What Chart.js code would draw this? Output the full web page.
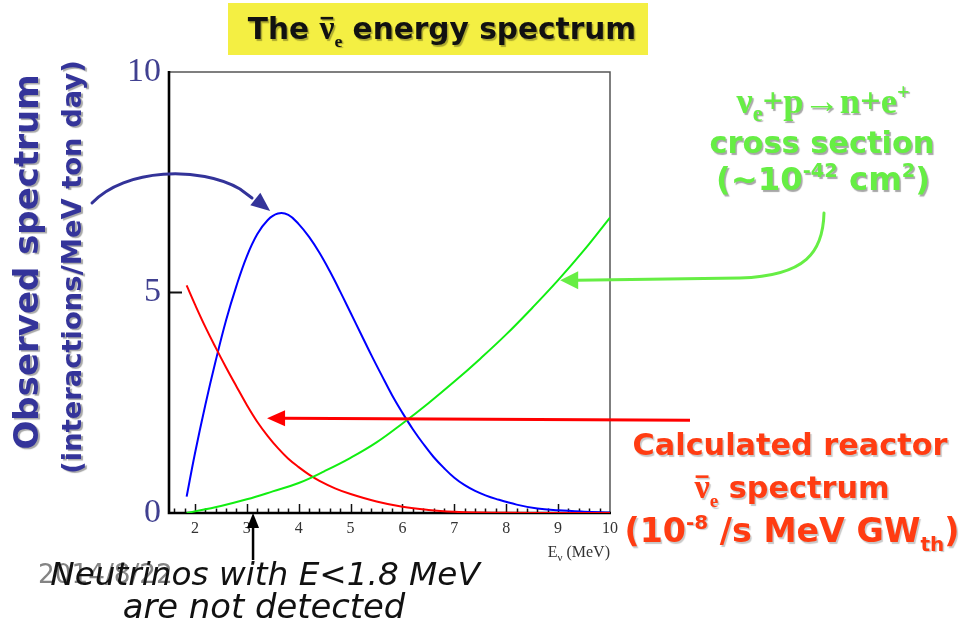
<!DOCTYPE html>
<html>
<head>
<meta charset="utf-8">
<script src="https://cdn.jsdelivr.net/npm/chart.js@4/dist/chart.umd.min.js"></script>
<style>
  html, body { margin: 0; padding: 0; background: #ffffff; }
  #wrap { width: 961px; height: 632px; position: relative; }
</style>
</head>
<body>
<div id="wrap"><canvas id="c" width="961" height="632"></canvas></div>
<script>
// Antineutrino energy (MeV) and the three curves
const observedE = [1.84, 2.0, 2.2, 2.4, 2.6, 2.8, 3.0, 3.2, 3.4, 3.6, 3.8, 4.0, 4.2, 4.4, 4.6, 4.8, 5.0, 5.2, 5.4, 5.6, 5.8, 6.0, 6.2, 6.4, 6.6, 6.8, 7.0, 7.2, 7.4, 7.6, 7.8, 8.2, 8.6, 9.0, 9.5, 10.0];
const observedSpectrum = [0.37, 1.35, 2.45, 3.45, 4.37, 5.15, 5.82, 6.32, 6.64, 6.79, 6.76, 6.55, 6.26, 5.90, 5.48, 5.02, 4.54, 4.06, 3.58, 3.12, 2.67, 2.27, 1.90, 1.57, 1.27, 1.02, 0.80, 0.63, 0.50, 0.40, 0.32, 0.19, 0.10, 0.06, 0.03, 0.01];

const reactorE = [1.84, 2.0, 2.2, 2.4, 2.6, 2.8, 3.0, 3.2, 3.4, 3.6, 3.8, 4.0, 4.2, 4.4, 4.7, 5.0, 5.5, 6.0, 6.5, 7.0, 7.5, 8.0, 9.0, 10.0];
const reactorFlux = [5.16, 4.73, 4.22, 3.75, 3.30, 2.87, 2.45, 2.07, 1.75, 1.47, 1.23, 1.04, 0.87, 0.73, 0.56, 0.43, 0.26, 0.14, 0.07, 0.03, 0.012, 0.005, 0.002, 0.001];

const crossE = [1.84, 2.5, 3.0, 3.5, 4.0, 4.5, 5.0, 5.5, 6.0, 6.5, 7.0, 7.5, 8.0, 8.5, 9.0, 9.5, 10.0];
const crossSection = [0.0, 0.16, 0.31, 0.49, 0.68, 0.95, 1.25, 1.60, 2.03, 2.49, 2.98, 3.50, 4.05, 4.65, 5.28, 5.96, 6.70];

const xTickValues = [2, 3, 4, 5, 6, 7, 8, 9, 10];
const yTickValues = [0, 5, 10];

const points = (xs, ys) => xs.map((x, i) => ({ x: x, y: ys[i] }));

const SANS = '"DejaVu Sans", sans-serif';
const SERIF = '"Liberation Serif", "Times New Roman", serif';

function fontOf(r, k) {
  return (r.style || 'normal') + ' ' + (r.weight || 'normal') + ' ' + (r.size * k).toFixed(1) + 'px ' + r.family;
}

// Draws a run of mixed-font text (sub/superscripts, overbars) fitted to a width
function drawRuns(ctx, runs, x, y, opts) {
  const measure = k => runs.reduce((s, r) => { ctx.font = fontOf(r, k); return s + ctx.measureText(r.t).width; }, 0);
  let k = 1;
  if (opts.width) k = opts.width / measure(1);
  const w = measure(k);
  let cx = opts.align === 'left' ? x : opts.align === 'right' ? x - w : x - w / 2;
  runs.forEach(r => {
    ctx.font = fontOf(r, k);
    const rw = ctx.measureText(r.t).width;
    const dy = (r.dy || 0) * k;
    ctx.fillText(r.t, cx, y + dy);
    if (r.over) {
      ctx.fillRect(cx + rw * 0.08, y + dy - r.size * k * r.over, rw * 0.84, Math.max(2, r.size * k * 0.075));
    }
    cx += rw;
  });
}

function arrowHead(ctx, fx, fy, tx, ty, len, half) {
  const a = Math.atan2(ty - fy, tx - fx);
  const bx = tx - len * Math.cos(a), by = ty - len * Math.sin(a);
  ctx.beginPath();
  ctx.moveTo(tx, ty);
  ctx.lineTo(bx + half * Math.sin(a), by - half * Math.cos(a));
  ctx.lineTo(bx - half * Math.sin(a), by + half * Math.cos(a));
  ctx.closePath();
  ctx.fill();
}

// Axis frame: thick left/bottom axes, thin top/right border, inward tick marks
const framePlugin = {
  id: 'frame',
  beforeDatasetsDraw(chart) {
    const ctx = chart.ctx, a = chart.chartArea;
    const xs = chart.scales.x, ys = chart.scales.y;
    ctx.save();
    ctx.strokeStyle = '#555555';
    ctx.lineWidth = 1.5;
    ctx.beginPath();
    ctx.moveTo(a.left, a.top); ctx.lineTo(a.right, a.top); ctx.lineTo(a.right, a.bottom);
    ctx.stroke();

    ctx.strokeStyle = '#111111';
    ctx.lineWidth = 1.5;
    for (let i = 8; i <= 49; i++) {
      const v = i / 5;
      const px = Math.round(xs.getPixelForValue(v)) + 0.5;
      const major = i % 5 === 0;
      ctx.beginPath();
      ctx.moveTo(px, a.bottom);
      ctx.lineTo(px, a.bottom - (major ? 9 : 4.5));
      ctx.stroke();
    }
    ctx.lineWidth = 2;
    const y5 = ys.getPixelForValue(5);
    ctx.beginPath();
    ctx.moveTo(a.left, y5); ctx.lineTo(a.left + 13, y5);
    ctx.stroke();

    ctx.strokeStyle = '#000000';
    ctx.lineWidth = 2.6;
    ctx.beginPath();
    ctx.moveTo(a.left, a.top - 1); ctx.lineTo(a.left, a.bottom); ctx.lineTo(a.right + 1, a.bottom);
    ctx.stroke();
    ctx.restore();
  }
};

// Title banner, axis captions, curve labels and pointer arrows
const notesPlugin = {
  id: 'notes',
  afterDraw(chart) {
    const ctx = chart.ctx;
    const xs = chart.scales.x, ys = chart.scales.y;
    const X = v => xs.getPixelForValue(v), Y = v => ys.getPixelForValue(v);
    ctx.save();
    ctx.textBaseline = 'alphabetic';
    ctx.textAlign = 'left';

    // x axis caption
    ctx.fillStyle = '#333333';
    drawRuns(ctx, [
      { t: 'E', family: SERIF, size: 16 },
      { t: 'ν', family: SERIF, size: 11, dy: 4 },
      { t: ' (MeV)', family: SERIF, size: 16 }
    ], chart.chartArea.right, 557, { align: 'right' });

    // title banner
    ctx.fillStyle = '#f4ef43';
    ctx.fillRect(228, 3, 420, 52);
    ctx.shadowColor = 'rgba(0,0,0,0.3)';
    ctx.shadowOffsetX = 1.5; ctx.shadowOffsetY = 1.5; ctx.shadowBlur = 1;
    ctx.fillStyle = '#111111';
    drawRuns(ctx, [
      { t: 'The ', family: SANS, weight: 'bold', size: 30 },
      { t: 'ν', family: SERIF, weight: 'bold', size: 34, over: 0.66 },
      { t: 'e', family: SERIF, weight: 'bold', size: 18, dy: 8 },
      { t: ' energy spectrum', family: SANS, weight: 'bold', size: 30 }
    ], 442, 39, { width: 388 });

    // y axis caption (two rotated lines)
    ctx.shadowColor = 'rgba(0,0,0,0.35)';
    ctx.fillStyle = '#34349a';
    ctx.save();
    ctx.translate(38, 262); ctx.rotate(-Math.PI / 2);
    drawRuns(ctx, [{ t: 'Observed spectrum', family: SANS, weight: 'bold', size: 30 }], 0, 0, { width: 375 });
    ctx.restore();
    ctx.save();
    ctx.translate(81, 267); ctx.rotate(-Math.PI / 2);
    drawRuns(ctx, [{ t: '(interactions/MeV ton day)', family: SANS, weight: 'bold', size: 30 }], 0, 0, { width: 413 });
    ctx.restore();

    // cross-section label
    ctx.fillStyle = '#66ee44';
    drawRuns(ctx, [
      { t: 'ν', family: SERIF, weight: 'bold', size: 28 },
      { t: 'e', family: SERIF, weight: 'bold', size: 17, dy: 6 },
      { t: '+p→n+e', family: SERIF, weight: 'bold', size: 28 },
      { t: '+', family: SERIF, weight: 'bold', size: 17, dy: -11 }
    ], 823, 113, { width: 173 });
    drawRuns(ctx, [{ t: 'cross section', family: SANS, weight: 'bold', size: 30 }], 822, 153, { width: 225 });
    drawRuns(ctx, [
      { t: '(~10', family: SANS, weight: 'bold', size: 30 },
      { t: '-42', family: SANS, weight: 'bold', size: 18, dy: -12 },
      { t: ' cm', family: SANS, weight: 'bold', size: 30 },
      { t: '2', family: SANS, weight: 'bold', size: 18, dy: -12 },
      { t: ')', family: SANS, weight: 'bold', size: 30 }
    ], 823, 190, { width: 214 });

    // reactor spectrum label
    ctx.fillStyle = '#ff3c12';
    ctx.shadowColor = 'rgba(0,0,0,0.22)';
    drawRuns(ctx, [{ t: 'Calculated reactor', family: SANS, weight: 'bold', size: 30 }], 790, 455, { width: 315 });
    drawRuns(ctx, [
      { t: 'ν', family: SERIF, weight: 'bold', size: 34, over: 0.66 },
      { t: 'e', family: SERIF, weight: 'bold', size: 19, dy: 9 },
      { t: ' spectrum', family: SANS, weight: 'bold', size: 30 }
    ], 792, 498, { width: 195 });
    drawRuns(ctx, [
      { t: '(10', family: SANS, weight: 'bold', size: 30 },
      { t: '-8', family: SANS, weight: 'bold', size: 18, dy: -12 },
      { t: ' /s MeV GW', family: SANS, weight: 'bold', size: 30 },
      { t: 'th', family: SANS, weight: 'bold', size: 18, dy: 8 },
      { t: ')', family: SANS, weight: 'bold', size: 30 }
    ], 792, 542, { width: 335 });

    // threshold note
    ctx.shadowColor = 'transparent';
    ctx.fillStyle = 'rgba(110,110,110,0.85)';
    drawRuns(ctx, [{ t: '2014/8/22', family: SANS, size: 26 }], 38, 583, { width: 135, align: 'left' });
    ctx.fillStyle = '#111111';
    drawRuns(ctx, [{ t: 'Neutrinos with E<1.8 MeV', family: SANS, style: 'italic', size: 28 }], 265, 585, { width: 430 });
    drawRuns(ctx, [{ t: 'are not detected', family: SANS, style: 'italic', size: 28 }], 264, 618, { width: 283 });

    // pointer arrows
    ctx.lineCap = 'round';
    // observed spectrum pointer
    const bt = { x: X(3.45), y: Y(6.85) };
    ctx.strokeStyle = ctx.fillStyle = '#333399';
    ctx.lineWidth = 3;
    ctx.beginPath();
    ctx.moveTo(92, 203);
    ctx.bezierCurveTo(125, 168, 200, 166, 240, 189);
    ctx.lineTo(252, 198);
    ctx.stroke();
    arrowHead(ctx, 244, 190, bt.x, bt.y, 19, 8);

    // cross-section pointer
    const gt = { x: X(9.04), y: Y(5.28) };
    ctx.strokeStyle = ctx.fillStyle = '#66ee44';
    ctx.lineWidth = 3;
    ctx.beginPath();
    ctx.moveTo(824, 213);
    ctx.bezierCurveTo(823, 252, 806, 276, 740, 278);
    ctx.lineTo(gt.x + 16, gt.y);
    ctx.stroke();
    arrowHead(ctx, gt.x + 30, gt.y, gt.x, gt.y, 18, 9);

    // reactor spectrum pointer
    const rt = { x: X(3.39), y: Y(2.15) };
    ctx.strokeStyle = ctx.fillStyle = '#ff0000';
    ctx.lineWidth = 3;
    ctx.lineCap = 'butt';
    ctx.beginPath();
    ctx.moveTo(690, rt.y + 2);
    ctx.lineTo(rt.x + 16, rt.y);
    ctx.stroke();
    arrowHead(ctx, rt.x + 30, rt.y, rt.x, rt.y, 18, 8);

    // threshold pointer
    const kt = { x: X(3.12), y: Y(0) };
    ctx.strokeStyle = ctx.fillStyle = '#000000';
    ctx.lineWidth = 2.5;
    ctx.beginPath();
    ctx.moveTo(kt.x, 560);
    ctx.lineTo(kt.x, kt.y + 12);
    ctx.stroke();
    arrowHead(ctx, kt.x, kt.y + 20, kt.x, kt.y, 15, 6);

    ctx.restore();
  }
};

const lineStyle = { borderWidth: 2, pointRadius: 0, fill: false, tension: 0.4, borderJoinStyle: 'round' };

new Chart(document.getElementById('c'), {
  type: 'line',
  data: {
    datasets: [
      Object.assign({ label: 'Cross section', data: points(crossE, crossSection), borderColor: '#11ee11' }, lineStyle),
      Object.assign({ label: 'Reactor spectrum', data: points(reactorE, reactorFlux), borderColor: '#ff0000' }, lineStyle),
      Object.assign({ label: 'Observed spectrum', data: points(observedE, observedSpectrum), borderColor: '#0000ff' }, lineStyle)
    ]
  },
  options: {
    responsive: false,
    animation: false,
    devicePixelRatio: 1,
    layout: { padding: { left: 0, right: 351, top: 72, bottom: 0 } },
    plugins: { legend: { display: false }, tooltip: { enabled: false }, title: { display: false } },
    scales: {
      x: {
        type: 'linear',
        min: 1.5,
        max: 10,
        grid: { display: false, drawTicks: false },
        border: { display: false },
        afterBuildTicks: s => { s.ticks = xTickValues.map(v => ({ value: v })); },
        afterFit: s => { s.height = 119; },
        ticks: {
          font: { family: SERIF, size: 16 },
          color: '#333333',
          padding: 6,
          autoSkip: false,
          maxRotation: 0
        }
      },
      y: {
        type: 'linear',
        min: 0,
        max: 10,
        grid: { display: false, drawTicks: false },
        border: { display: false },
        afterBuildTicks: s => { s.ticks = yTickValues.map(v => ({ value: v })); },
        afterFit: s => { s.width = 169; },
        ticks: {
          font: { family: SERIF, size: 34 },
          color: '#404090',
          padding: 8
        }
      }
    }
  },
  plugins: [framePlugin, notesPlugin]
});
</script>
</body>
</html>
